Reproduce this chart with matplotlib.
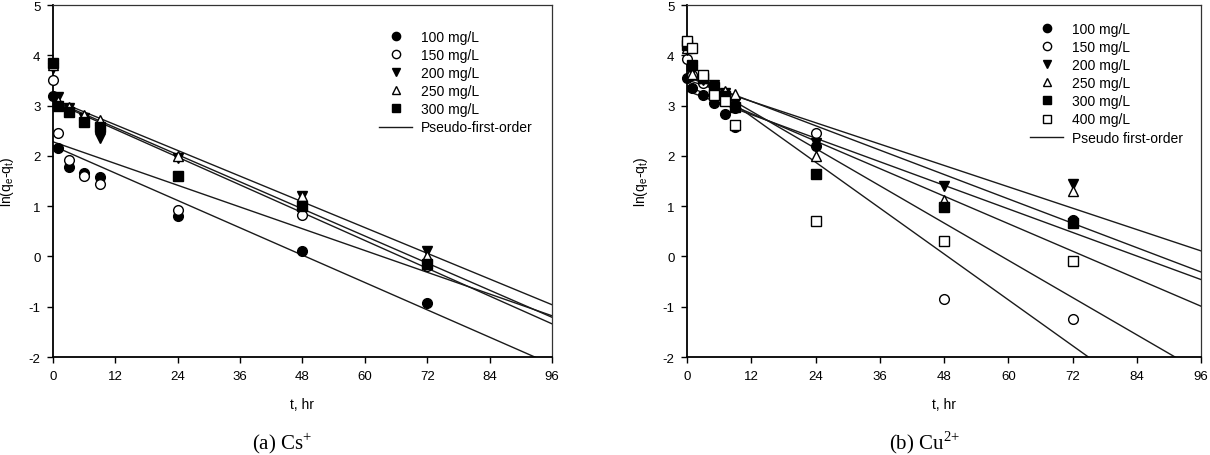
import numpy as np
import matplotlib.pyplot as plt

plt.rcParams['font.family'] = ['Liberation Sans', 'DejaVu Sans']
plt.rcParams['mathtext.fontset'] = 'custom'
plt.rcParams['mathtext.rm'] = 'Liberation Sans'
plt.rcParams['axes.unicode_minus'] = False

# (a) Cs+ : ln(qe - qt) vs t
t_cs = [0, 1, 3, 6, 9, 24, 48, 72]
cs_100 = [3.2, 2.15, 1.78, 1.65, 1.57, 0.8, 0.1, -0.92]
cs_150 = [3.5, 2.45, 1.92, 1.6, 1.45, 0.93, 0.82, -0.2]
cs_200 = [3.75, 3.17, 2.95, 2.75, 2.35, 1.95, 1.2, 0.1]
cs_250 = [3.8, 3.1, 2.98, 2.82, 2.72, 2.0, 1.2, 0.0]
cs_300 = [3.85, 3.0, 2.87, 2.67, 2.57, 1.6, 1.0, -0.15]
cs_labels = ["100 mg/L", "150 mg/L", "200 mg/L", "250 mg/L", "300 mg/L"]
# pseudo-first-order fits: value at t=0 and at t=96
cs_fit_t = [0, 96]
cs_fit_start = [2.2, 2.28, 3.13, 3.10, 3.08]
cs_fit_end = [-2.15, -1.18, -0.96, -1.21, -1.34]

# (b) Cu2+
t_cu = [0, 1, 3, 5, 7, 9, 24, 48, 72]
cu_100 = [3.55, 3.35, 3.21, 3.05, 2.83, 2.58, 2.2, 1.0, 0.73]
cu_150 = [3.93, 3.6, 3.45, 3.3, 3.15, 2.95, 2.45, -0.85, -1.25]
cu_200 = [4.1, 3.7, 3.5, 3.4, 3.25, 3.05, 2.25, 1.4, 1.44]
cu_250 = [4.15, 3.62, 3.55, 3.35, 3.3, 3.23, 2.0, 1.12, 1.3]
cu_300 = [4.2, 3.8, 3.55, 3.37, 3.2, 2.97, 1.64, 0.98, 0.66]
cu_400 = [4.29, 4.14, 3.6, 3.22, 3.1, 2.61, 0.71, 0.31, -0.09]
cu_labels = ["100 mg/L", "150 mg/L", "200 mg/L", "250 mg/L", "300 mg/L", "400 mg/L"]
cu_fit_t = [0, 96]
cu_fit_start = [3.51, 3.57, 3.29, 3.39, 3.63, 3.70]
cu_fit_end = [0.11, -0.31, -0.46, -0.99, -2.30, -3.60]

styles = [
    dict(marker='o', mfc='black', mec='black'),
    dict(marker='o', mfc='white', mec='black'),
    dict(marker='v', mfc='black', mec='black'),
    dict(marker='^', mfc='white', mec='black'),
    dict(marker='s', mfc='black', mec='black'),
    dict(marker='s', mfc='white', mec='black'),
]


def panel(ax, t, series, labels, fit_t, starts, ends, fit_label, leg_xy):
    for ys, lab, st in zip(series, labels, styles):
        ax.plot(t, ys, ls='none', ms=7, mew=1.0, label=lab, clip_on=False,
                zorder=3, **st)
    for i, (a, b) in enumerate(zip(starts, ends)):
        ax.plot(fit_t, [a, b], color='#1a1a1a', lw=1.0, zorder=2,
                label=fit_label if i == 0 else None)
    ax.set_xlim(0, 96)
    ax.set_ylim(-2, 5)
    ax.set_xticks(range(0, 97, 12))
    ax.set_yticks(range(-2, 6))
    ax.tick_params(labelsize=9.5, length=4, width=1, direction='out', pad=5)
    for s in ['left', 'bottom']:
        ax.spines[s].set_linewidth(1.3)
    for s in ['top', 'right']:
        ax.spines[s].set_linewidth(0.9)
        ax.spines[s].set_color('#333333')
    ax.set_xlabel("t, hr", fontsize=10, labelpad=11)
    ax.set_ylabel(r"ln(q$_\mathregular{e}$-q$_\mathregular{t}$)", fontsize=10, labelpad=9)
    ax.legend(loc='upper left', bbox_to_anchor=leg_xy, frameon=False,
              fontsize=10, handlelength=2.4, handletextpad=0.6,
              labelspacing=0.3, borderpad=0, borderaxespad=0, markerscale=0.85)


fig = plt.figure(figsize=(12.1, 4.56), dpi=100)
ax1 = fig.add_axes([0.0438, 0.2149, 0.4124, 0.7719])
ax2 = fig.add_axes([0.5678, 0.2149, 0.4248, 0.7719])

panel(ax1, t_cs, [cs_100, cs_150, cs_200, cs_250, cs_300], cs_labels,
      cs_fit_t, cs_fit_start, cs_fit_end, "Pseudo-first-order", (0.653, 0.930))
panel(ax2, t_cu, [cu_100, cu_150, cu_200, cu_250, cu_300, cu_400], cu_labels,
      cu_fit_t, cu_fit_start, cu_fit_end, "Pseudo first-order", (0.667, 0.953))

fig.text(0.233, 0.014, r"(a) Cs$^{\mathregular{+}}$", family='Liberation Serif',
         fontsize=15, ha='center', va='baseline')
fig.text(0.764, 0.014, r"(b) Cu$^{\mathregular{2{+}}}$", family='Liberation Serif',
         fontsize=15, ha='center', va='baseline')

fig.savefig("out.png", dpi=100, facecolor='white')
